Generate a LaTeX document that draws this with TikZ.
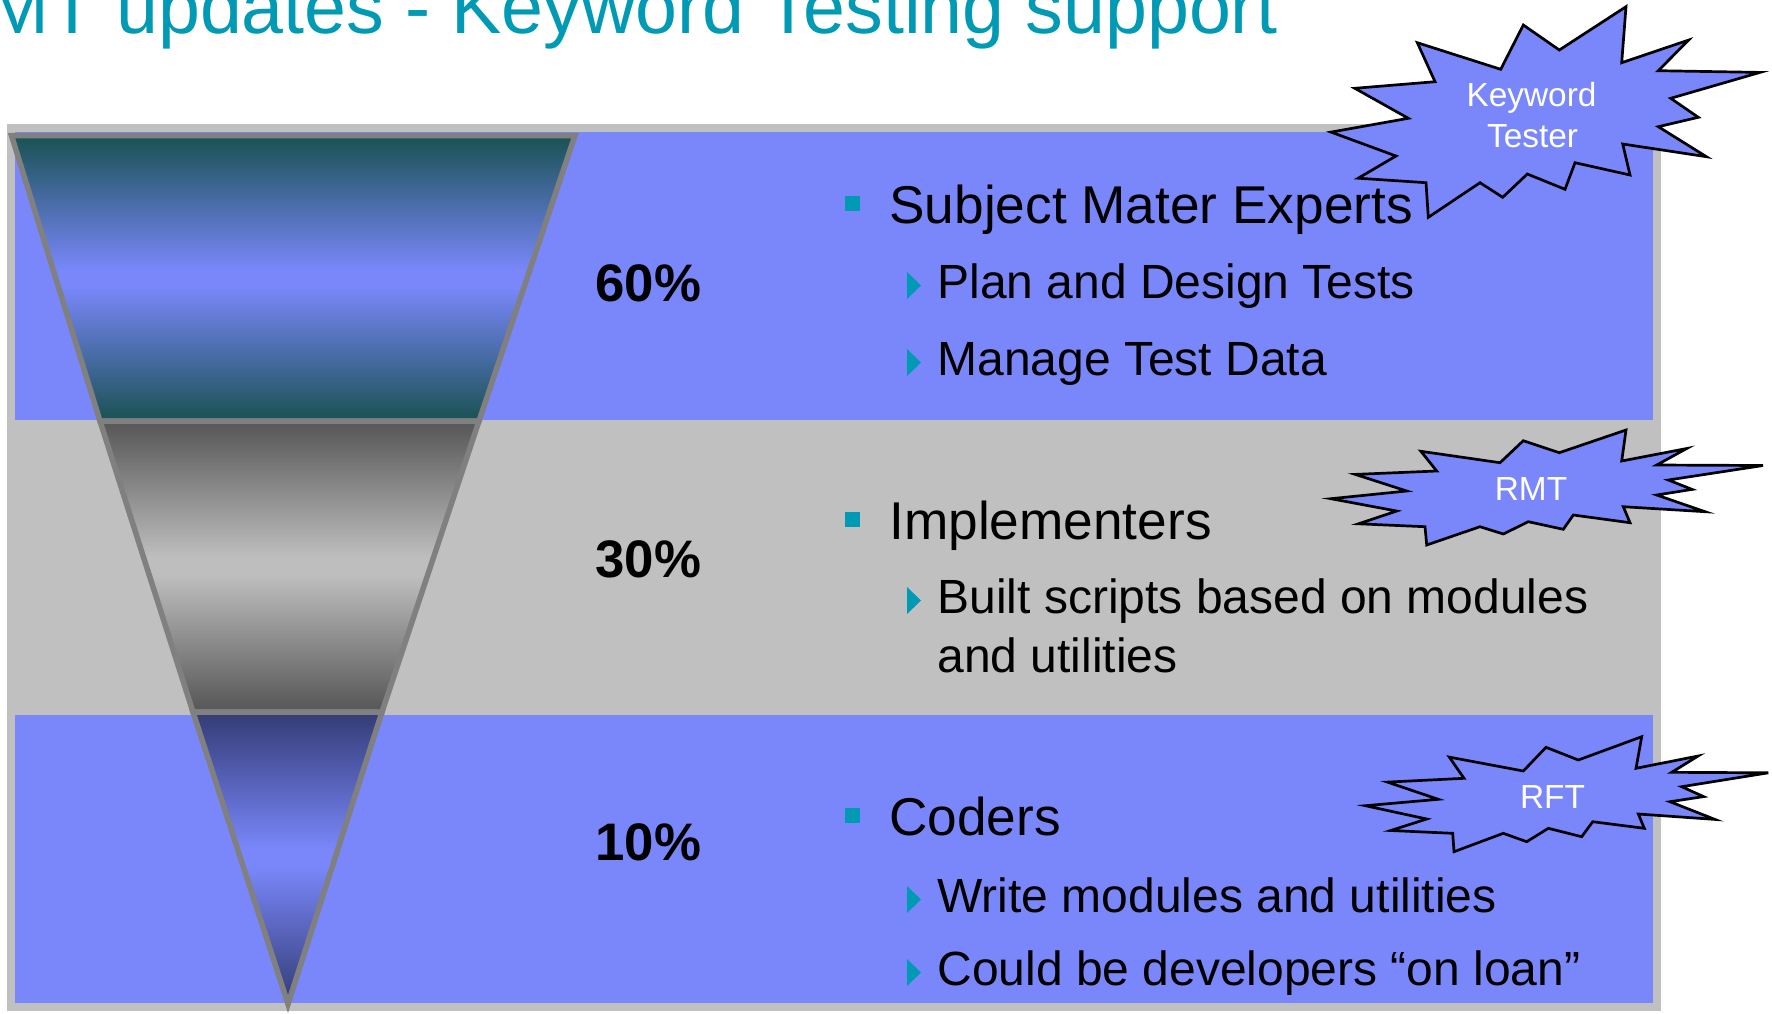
\documentclass[tikz,border=0pt]{standalone}
\usepackage{fontspec}
\setmainfont{Liberation Sans}

\definecolor{framegray}{RGB}{192,192,192}
\definecolor{bandblue}{RGB}{121,135,250}
\definecolor{accent}{RGB}{0,154,181}
\definecolor{edgegray}{RGB}{128,128,128}
\definecolor{tealdark}{RGB}{29,84,90}
\definecolor{graydark}{RGB}{90,90,90}
\definecolor{graylight}{RGB}{190,190,190}
\definecolor{navydark}{RGB}{54,63,122}

% mirrored vertical gradients with a short light plateau in the middle
\pgfdeclareverticalshading{tealfunnel}{100bp}{color(0bp)=(tealdark); color(26bp)=(tealdark);
  color(48.5bp)=(bandblue); color(51.5bp)=(bandblue); color(74bp)=(tealdark); color(100bp)=(tealdark)}
\pgfdeclareverticalshading{grayfunnel}{100bp}{color(0bp)=(graydark); color(26bp)=(graydark);
  color(48.5bp)=(graylight); color(51.5bp)=(graylight); color(74bp)=(graydark); color(100bp)=(graydark)}
\pgfdeclareverticalshading{navyfunnel}{100bp}{color(0bp)=(navydark); color(26bp)=(navydark);
  color(48.5bp)=(bandblue); color(51.5bp)=(bandblue); color(74bp)=(navydark); color(100bp)=(navydark)}

\tikzset{
  funnelseg/.style={draw=edgegray, line width=2.75pt, line join=miter, shade, shading=#1},
  burst/.style={fill=bandblue, draw=black, line width=1.35pt, line join=miter},
  bursttext/.style={anchor=base, inner sep=0pt, text=white, font=\fontsize{16.7}{20}\selectfont},
  pct/.style={anchor=base west, inner sep=0pt, font=\bfseries\fontsize{26.4}{30}\selectfont},
  maintext/.style={anchor=base west, inner sep=0pt, font=\fontsize{26.6}{30}\selectfont},
  subtext/.style={anchor=base west, inner sep=0pt, font=\fontsize{24}{29.5}\selectfont},
  titletext/.style={anchor=base west, inner sep=0pt, text=accent, font=\fontsize{37.7}{42}\selectfont},
}

% square bullet with the text baseline given
\newcommand\squarebullet[1]{\fill[accent] (845,#1-27) rectangle (860,#1-12);}
% triangular sub-bullet with the text baseline given
\newcommand\tribullet[1]{\fill[accent] (907,#1-26) -- (921,#1-12.5) -- (907,#1+1) -- cycle;}

\begin{document}
\begin{tikzpicture}[x=0.5pt,y=-0.5pt]
\useasboundingbox (0,0) rectangle (1772,1013);
\fill[white] (0,0) rectangle (1772,1013);

% heading
\node[titletext] (title) at (-14,33.5) {MT updates - Keyword Testing support};

% frame and colour bands
\fill[framegray] (7,124) rectangle (1661,1011);
\fill[bandblue] (15,132) rectangle (1653,419.5);
\fill[bandblue] (15,715) rectangle (1653,1003);

% funnel, three stacked segments
\path[funnelseg=tealfunnel]
  (11.5,135.5) -- (575,135.5) -- (479,421) -- (100,421) -- cycle;
\path[funnelseg=grayfunnel]
  (100,421) -- (479,421) -- (382,712) -- (193,712) -- cycle;
\path[funnelseg=navyfunnel]
  (193,712) -- (382,712) -- (288,1004) -- cycle;

% shares
\node[pct] (p60) at (595,301) {60\%};
\node[pct] (p30) at (595,577) {30\%};
\node[pct] (p10) at (595,860) {10\%};

% first band
\squarebullet{223}
\node[maintext] (sme) at (889,223) {Subject Mater Experts};
\tribullet{298}
\node[subtext] (plan) at (937,298) {Plan and Design Tests};
\tribullet{375}
\node[subtext] (data) at (937,375) {Manage Test Data};

% second band
\squarebullet{539}
\node[maintext] (impl) at (889,539) {Implementers};
\tribullet{613}
\node[subtext] (built) at (937,613) {Built scripts based on modules};
\node[subtext] (built2) at (937,672) {and utilities};

% third band
\squarebullet{835}
\node[maintext] (coders) at (889,835) {Coders};
\tribullet{912}
\node[subtext] (write) at (937,912) {Write modules and utilities};
\tribullet{985}
\node[subtext] (loan) at (937,985) {Could be developers “on loan”};

% tool bursts (vertices set back so the mitred tips end where wanted)
\draw[burst] (1354.8,88.3) -- (1435,81.7) -- (1417.3,42.7) -- (1500.7,69.3) -- (1523.3,25)
  -- (1559.3,50) -- (1626,6.7) -- (1621.7,62.7) -- (1688.5,40.1) -- (1658.3,70.7)
  -- (1760,72.4) -- (1670.7,98.3) -- (1698.3,117.3) -- (1658.3,126.7) -- (1706.4,156.7)
  -- (1622.7,144) -- (1630,175) -- (1575,162.7) -- (1565,189.3) -- (1527.3,174)
  -- (1502.7,197.3) -- (1480,182.7) -- (1428.3,217.3) -- (1426,182.7) -- (1358.2,178.2)
  -- (1396,156) -- (1331,132.1) -- (1408.3,118.3) -- cycle;
\node[bursttext] (kw1) at (1531.5,106.7) {Keyword};
\node[bursttext] (kw2) at (1532.5,147.5) {Tester};

\draw[burst] (1330.9,498.7) -- (1406.7,491) -- (1355.3,474.4) -- (1436.7,471) -- (1420.9,451.3)
  -- (1500,462.7) -- (1523.3,440.7) -- (1559.3,452.7) -- (1626,430) -- (1621.7,461)
  -- (1686.7,448.5) -- (1656.7,465) -- (1763,465.5) -- (1668.3,480) -- (1692.1,489.4)
  -- (1656.7,495) -- (1705.1,511.7) -- (1623.3,506.7) -- (1630,522.7) -- (1573.3,515)
  -- (1563.3,529.3) -- (1528.3,521.7) -- (1503.3,534) -- (1480,526.7) -- (1426.7,545)
  -- (1425,526.7) -- (1358.5,523.8) -- (1396.7,511) -- cycle;
\node[bursttext] (rmt) at (1531,500.7) {RMT};

\draw[burst] (1365.4,805.7) -- (1438.3,799.3) -- (1387.4,782.1) -- (1464,778.3) -- (1449.3,757.1)
  -- (1523.3,771) -- (1546,747.3) -- (1578.3,760) -- (1641.7,736.7) -- (1636,768.3)
  -- (1698.1,756) -- (1671.7,772.3) -- (1768.3,772.8) -- (1681.7,786.7) -- (1703.6,796.6)
  -- (1670,801.7) -- (1714.9,819.4) -- (1638.3,814) -- (1644.3,828.3) -- (1592.7,821.7)
  -- (1581.7,836.7) -- (1548.3,828.3) -- (1526.7,841.7) -- (1503.3,833.3) -- (1454,851.7)
  -- (1452.7,833.3) -- (1390.7,830.5) -- (1426.7,819) -- cycle;
\node[bursttext] (rft) at (1552.5,808.3) {RFT};
\end{tikzpicture}
\end{document}
